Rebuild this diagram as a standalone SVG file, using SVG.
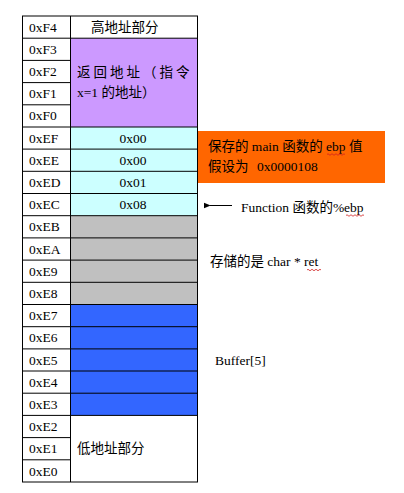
<svg xmlns="http://www.w3.org/2000/svg" width="404" height="493" viewBox="0 0 404 493">
<defs>
<style>
.t{font-family:"Liberation Serif","Noto Sans CJK SC",serif;font-size:13.5px;fill:#000}
.c{font-family:"Liberation Serif","Noto Sans CJK SC",serif;font-size:13.5px;fill:#000;text-anchor:middle}
.ln{stroke:#000;stroke-width:1;fill:none}
.sq{stroke:#d02020;stroke-width:0.8;fill:none}
</style>
<marker id="ah" viewBox="0 0 10 10" refX="1" refY="5" markerWidth="7" markerHeight="7" orient="auto">
<path d="M10,1 L0,5 L10,9 Z" fill="#000"/>
</marker>
</defs>
<rect width="404" height="493" fill="#fff"/>

<g id="cells">
<rect x="70.5" y="38.2" width="127" height="88.8" fill="#CC99FF"/>
<rect x="70.5" y="127" width="127" height="88.7" fill="#CCFFFF"/>
<rect x="70.5" y="215.7" width="127" height="88.8" fill="#C0C0C0"/>
<rect x="70.5" y="304.5" width="127" height="110.9" fill="#3366FF"/>
</g>

<g id="grid">
<rect x="22.5" y="16" width="175" height="466" class="ln"/>
<line x1="70.5" y1="16" x2="70.5" y2="482" class="ln"/>
<path class="ln" d="M22.5,38.2H197.5 M22.5,60.4H70.5 M22.5,82.6H70.5 M22.5,104.8H70.5 M22.5,127H197.5 M22.5,149.1H197.5 M22.5,171.3H197.5 M22.5,193.5H197.5 M22.5,215.7H197.5 M22.5,237.9H197.5 M22.5,260.1H197.5 M22.5,282.3H197.5 M22.5,304.5H197.5 M22.5,326.7H197.5 M22.5,348.9H197.5 M22.5,371H197.5 M22.5,393.2H197.5 M22.5,415.4H197.5 M22.5,437.6H70.5 M22.5,459.8H70.5"/>
</g>

<g id="addresses">
<text class="t" x="29" y="31.6">0xF4</text>
<text class="t" x="29" y="53.8">0xF3</text>
<text class="t" x="29" y="76">0xF2</text>
<text class="t" x="29" y="98.2">0xF1</text>
<text class="t" x="29" y="120.4">0xF0</text>
<text class="t" x="29" y="142.6">0xEF</text>
<text class="t" x="29" y="164.8">0xEE</text>
<text class="t" x="29" y="187">0xED</text>
<text class="t" x="29" y="209.2">0xEC</text>
<text class="t" x="29" y="231.4">0xEB</text>
<text class="t" x="29" y="253.6">0xEA</text>
<text class="t" x="29" y="275.8">0xE9</text>
<text class="t" x="29" y="298">0xE8</text>
<text class="t" x="29" y="320.1">0xE7</text>
<text class="t" x="29" y="342.3">0xE6</text>
<text class="t" x="29" y="364.5">0xE5</text>
<text class="t" x="29" y="386.7">0xE4</text>
<text class="t" x="29" y="408.9">0xE3</text>
<text class="t" x="29" y="431.1">0xE2</text>
<text class="t" x="29" y="453.3">0xE1</text>
<text class="t" x="29" y="475.5">0xE0</text>
</g>

<g id="contents">
<text class="t" x="91" y="31.6">高地址部分</text>
<text class="t" x="77" y="77" letter-spacing="3">返回地址（指令</text>
<text class="t" x="77" y="97">x=1 的地址）</text>
<text class="c" x="133" y="142.6">0x00</text>
<text class="c" x="133" y="164.8">0x00</text>
<text class="c" x="133" y="187">0x01</text>
<text class="c" x="133" y="209.2">0x08</text>
<text class="t" x="77" y="453">低地址部分</text>
</g>

<g id="note-ebp">
<rect x="198" y="131" width="187" height="52" fill="#FF6600"/>
<text class="t" x="208" y="151">保存的 main 函数的 ebp 值</text>
<text class="t" x="208" y="171">假设为<tspan x="257">0x0000108</tspan></text>
<path class="sq" d="M327,154.5 q1,-1.5 2,0 t2,0 t2,0 t2,0 t2,0 t2,0 t2,0 t2,0 t2,0"/>
</g>

<g id="connectors">
<line x1="232" y1="205.5" x2="210" y2="205.5" stroke="#000" stroke-width="1" marker-end="url(#ah)"/>
</g>

<g id="labels">
<text class="t" x="241" y="212">Function 函数的%ebp</text>
<path class="sq" d="M346,215.5 q1,-1.5 2,0 t2,0 t2,0 t2,0 t2,0 t2,0 t2,0 t2,0 t2,0"/>
<text class="t" x="210" y="266">存储的是 char * ret</text>
<path class="sq" d="M307,270 q1,-1.5 2,0 t2,0 t2,0 t2,0 t2,0 t2,0 t2,0"/>
<text class="t" x="215" y="365">Buffer[5]</text>
</g>
</svg>
